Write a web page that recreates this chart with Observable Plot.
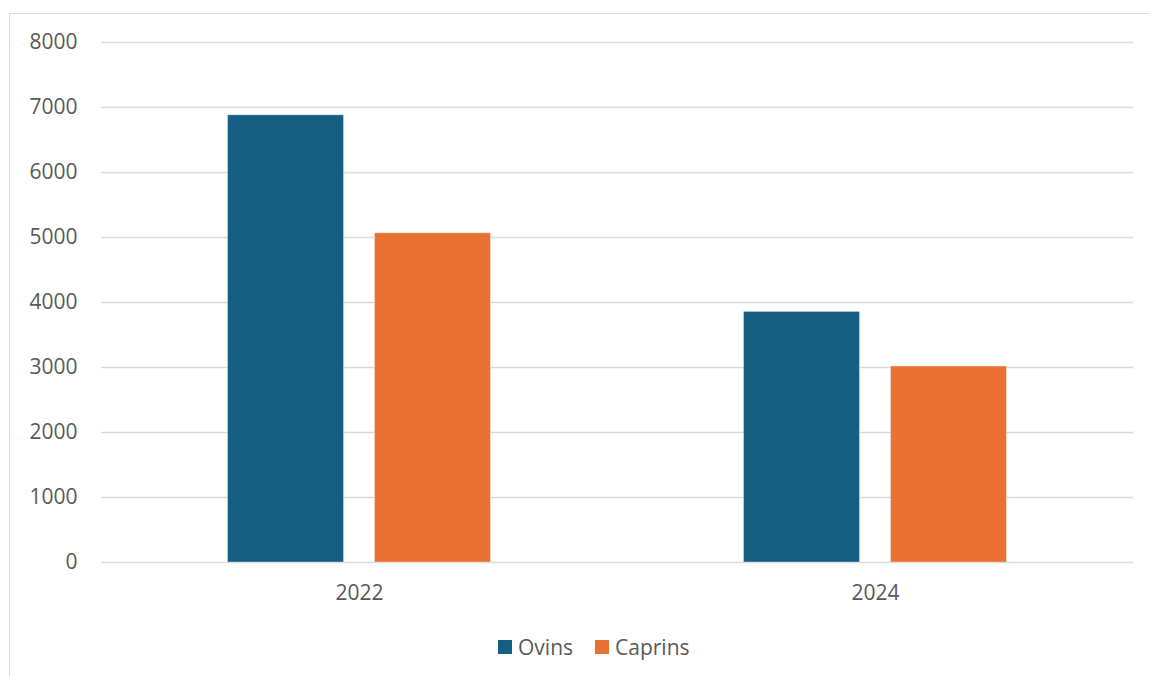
<!DOCTYPE html>
<html>
<head>
<meta charset="utf-8">
<script src="https://cdn.jsdelivr.net/npm/d3@7"></script>
<script src="https://cdn.jsdelivr.net/npm/@observablehq/plot@0.6"></script>
<style>
  html, body { margin: 0; padding: 0; background: #fff; overflow: hidden; width: 1149px; height: 676px; }
  #frame { position: absolute; left: 9px; top: 13px; width: 1160px; height: 700px;
           border-top: 1.5px solid #d9d9d9; border-left: 1.5px solid #d9d9d9; box-sizing: border-box; }
  #chart { position: absolute; left: 0; top: 0; }
  #legend { position: absolute; left: 498px; top: 633px; display: flex; justify-content: flex-start;
            align-items: center; font-family: "Open Sans", sans-serif; font-size: 21px; color: #595959; }
  .item { display: flex; align-items: center; margin-right: 22px; }
  .sw { width: 13.5px; height: 13.5px; margin-right: 6.5px; }
</style>
</head>
<body>
<div id="frame"></div>
<div id="chart"></div>
<div id="legend"></div>
<script>
const years = ["2022", "2024"];
const series = ["Ovins", "Caprins"];
const ovins = [6880, 3855];
const caprins = [5065, 3015];
const colors = ["#156082", "#E97132"];
const yTicks = [0, 1000, 2000, 3000, 4000, 5000, 6000, 7000, 8000];

const data = [];
years.forEach((y, i) => {
  data.push({year: y, serie: "Ovins", value: ovins[i]});
  data.push({year: y, serie: "Caprins", value: caprins[i]});
});

const chart = Plot.plot({
  width: 1149,
  height: 620,
  marginLeft: 101,
  marginRight: 16,
  marginTop: 42,
  marginBottom: 58,
  style: {fontFamily: "'Open Sans', sans-serif", fontSize: "21px", color: "#595959", background: "transparent"},
  fx: {domain: years, padding: 0, label: null, axis: "bottom", tickSize: 0, tickPadding: 23},
  x: {domain: series, axis: null, paddingInner: 0.211, paddingOuter: 0.861, round: false},
  y: {domain: [0, 8000], ticks: yTicks, label: null, tickSize: 0, tickPadding: 24, tickFormat: d => String(d)},
  color: {domain: series, range: colors},
  marks: [
    Plot.gridY(yTicks, {stroke: "#d9d9d9", strokeOpacity: 1, strokeWidth: 1.5}),
    Plot.barY(data, {fx: "year", x: "serie", y: "value", fill: "serie", stroke: "#ffffff", strokeOpacity: 0.35, strokeWidth: 1}),
    Plot.axisY({ticks: yTicks, tickSize: 0, tickPadding: 24, label: null, tickFormat: d => String(d)})
  ]
});
document.getElementById("chart").appendChild(chart);

const legend = document.getElementById("legend");
series.forEach((s, i) => {
  const it = document.createElement("div");
  it.className = "item";
  const sw = document.createElement("div");
  sw.className = "sw";
  sw.style.background = colors[i];
  const t = document.createElement("span");
  t.textContent = s;
  it.appendChild(sw);
  it.appendChild(t);
  legend.appendChild(it);
});
</script>
</body>
</html>
